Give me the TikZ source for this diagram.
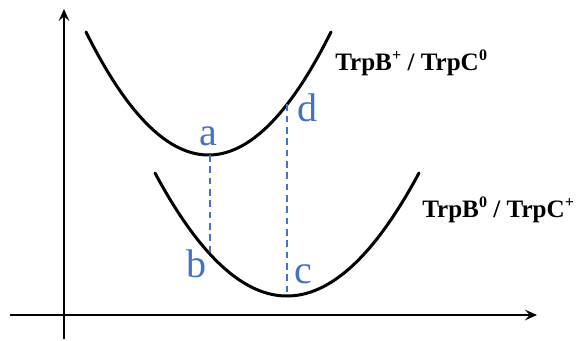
\documentclass[tikz,border=0pt]{standalone}
\usepackage{fontspec}
\setmainfont{Liberation Serif}
\usetikzlibrary{arrows.meta}
\definecolor{lblue}{HTML}{4472C4}
\newcommand{\chg}[1]{\kern0.2pt\raisebox{0.36em}{\fontsize{12}{12}\selectfont #1}}
\tikzset{
  axis/.style={line width=2.5pt*0.75, -{Stealth[length=9pt,width=8pt,inset=3.5pt]}},
  curve/.style={line width=3pt*0.75, line cap=round},
  guide/.style={lblue, line width=1.5pt*0.75, dash pattern=on 5pt off 3.5pt},
  ptlabel/.style={lblue, font=\fontsize{30}{30}\selectfont, inner sep=0pt, anchor=base},
  statelabel/.style={font=\fontsize{18.8}{20}\selectfont\bfseries, inner sep=0pt, anchor=base west}
}
\begin{document}
\begin{tikzpicture}[x=0.75pt,y=-0.75pt]
\useasboundingbox (0,0) rectangle (576,340);
% axes
\coordinate (yb) at (64,339);
\coordinate (yt) at (64,9);
\coordinate (xl) at (10,315);
\coordinate (xr) at (537,315);
\draw[axis] (yb) -- (yt);
\draw[axis] (xl) -- (xr);
% curves
\draw[curve] plot[domain=86:331, samples=80, smooth] (\x, {155-0.82*((\x-208.5)/10)^2});
\draw[curve] plot[domain=155:419, samples=80, smooth] (\x, {296-0.706*((\x-287)/10)^2});
% points
\coordinate (pa) at (210, {155-0.82*((210-208.5)/10)^2});
\coordinate (pb) at (210, {296-0.706*((210-287)/10)^2});
\coordinate (pd) at (287, {155-0.82*((287-208.5)/10)^2});
\coordinate (pc) at (287, 296);
\draw[guide] (pa) -- (pb);
\draw[guide] (pd) -- (pc);
% point labels
\node[ptlabel] (la) at (208,145) {a};
\node[ptlabel] (lb) at (196,277) {b};
\node[ptlabel] (lc) at (303,283) {c};
\node[ptlabel] (ld) at (307,121) {d};
% state labels
\node[statelabel] (top) at (335,70) {TrpB\chg{+} / TrpC\chg{0}};
\node[statelabel] (bot) at (422,217) {TrpB\chg{0} / TrpC\chg{+}};
\end{tikzpicture}
\end{document}
